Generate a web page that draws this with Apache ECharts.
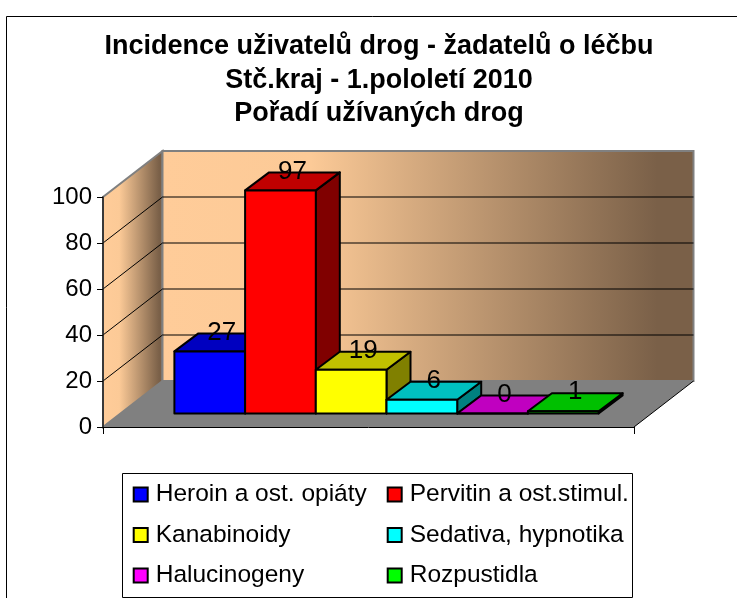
<!DOCTYPE html>
<html lang="en">
<head>
    <meta charset="UTF-8">
    <title>Incidence</title>
    <script src="https://cdn.jsdelivr.net/npm/echarts@6/dist/echarts.min.js"></script>
    <style>
        html, body { margin: 0; padding: 0; background: #fff; }
    </style>
</head>
<body>
    <div id="main" style="width: 737px;height:598px;"></div>
    <script type="text/javascript">
        var titleLines = ['Incidence uživatelů drog - žadatelů o léčbu', 'Stč.kraj - 1.pololetí 2010', 'Pořadí užívaných drog'];
        var drugs = ['Heroin a ost. opiáty', 'Pervitin a ost.stimul.', 'Kanabinoidy', 'Sedativa, hypnotika', 'Halucinogeny', 'Rozpustidla'];
        var counts = [27, 97, 19, 6, 0, 1];
        var yTicks = [20, 40, 60, 80];
        var frontColors = ['#0000ff', '#ff0000', '#ffff00', '#00ffff', '#ff00ff', '#00ff00'];
        var topColors = ['#0000c0', '#c00000', '#c0c000', '#00c0c0', '#c000c0', '#00c000'];
        var sideColors = ['#000080', '#800000', '#808000', '#008080', '#800080', '#008000'];

        var myChart = echarts.init(document.getElementById('main'));

        var FONT = '"Liberation Sans", Arial, sans-serif';
        // 3d look: how far the back wall and the bars sit from the front axis
        var WALL_DX = 59.5, WALL_DY = -46;
        var BAR_OFF_DX = 18, BAR_OFF_DY = -13.5;
        var BAR_DX = 24, BAR_DY = -18;
        var BAR_W = 70.7;

        function wallGradient() {
            return new echarts.graphic.LinearGradient(0, 0, 1, 0, [
                {offset: 0, color: '#ffcc99'},
                {offset: 0.28, color: '#fccA97'},
                {offset: 0.93, color: '#7a6048'},
                {offset: 1, color: '#7a6048'}
            ]);
        }

        function renderFrame(params, api) {
            var x0 = params.coordSys.x, x1 = x0 + params.coordSys.width;
            var bottom = api.coord([0, 0])[1], top = api.coord([0, 100])[1];
            var kids = [
                {type: 'polygon', shape: {points: [[x0, bottom], [x1, bottom], [x1 + WALL_DX, bottom + WALL_DY], [x0 + WALL_DX, bottom + WALL_DY]]},
                    style: {fill: '#808080'}},
                {type: 'polygon', shape: {points: [[x0, bottom], [x0, top], [x0 + WALL_DX, top + WALL_DY], [x0 + WALL_DX, bottom + WALL_DY]]},
                    style: {fill: wallGradient(), stroke: '#808080', lineWidth: 2}},
                {type: 'rect', shape: {x: x0 + WALL_DX, y: top + WALL_DY, width: x1 - x0, height: bottom - top},
                    style: {fill: wallGradient(), stroke: '#808080', lineWidth: 2}},
                {type: 'line', shape: {x1: x1, y1: bottom, x2: x1 + WALL_DX, y2: bottom + WALL_DY},
                    style: {stroke: '#000', lineWidth: 1}}
            ];
            yTicks.forEach(function (v) {
                var y = api.coord([0, v])[1];
                kids.push({type: 'line', shape: {x1: x0, y1: y, x2: x0 + WALL_DX, y2: y + WALL_DY}, style: {stroke: '#000', lineWidth: 1}});
                kids.push({type: 'line', shape: {x1: x0 + WALL_DX, y1: y + WALL_DY, x2: x1 + WALL_DX, y2: y + WALL_DY}, style: {stroke: '#000', lineWidth: 1}});
            });
            return {type: 'group', children: kids};
        }

        function renderBar(i) {
            return function (params, api) {
                var mid = api.coord([0, 0]);
                var v = api.value(1);
                var left = mid[0] + (i - 3) * BAR_W + BAR_OFF_DX;
                var right = left + BAR_W;
                var base = mid[1] + BAR_OFF_DY;
                var top = api.coord([0, v])[1] + BAR_OFF_DY;
                var border = {stroke: '#000', lineWidth: 2, lineJoin: 'round'};
                return {type: 'group', children: [
                    {type: 'polygon', shape: {points: [[right, base], [right, top], [right + BAR_DX, top + BAR_DY], [right + BAR_DX, base + BAR_DY]]},
                        style: Object.assign({fill: sideColors[i]}, border)},
                    {type: 'polygon', shape: {points: [[left, top], [right, top], [right + BAR_DX, top + BAR_DY], [left + BAR_DX, top + BAR_DY]]},
                        style: Object.assign({fill: topColors[i]}, border)},
                    {type: 'rect', shape: {x: left, y: top, width: BAR_W, height: base - top},
                        style: Object.assign({fill: frontColors[i]}, border)},
                    {type: 'text', style: {text: String(v), x: left + BAR_W / 2 + BAR_DX / 2, y: top + BAR_DY - 1,
                        align: 'center', verticalAlign: 'middle', font: '26px ' + FONT, fill: '#000'}}
                ]};
            };
        }

        var series = [{
            name: 'frame', type: 'custom', z: 1, silent: true,
            data: [[0, 0]], renderItem: renderFrame
        }];
        drugs.forEach(function (name, i) {
            series.push({
                name: name, type: 'custom', z: 2,
                itemStyle: {color: frontColors[i]},
                data: [[0, counts[i]]],
                renderItem: renderBar(i)
            });
        });

        function legendColumn(names, left) {
            return {
                orient: 'vertical', left: left, top: 482, itemGap: 15.5,
                itemWidth: 14, itemHeight: 14, icon: 'rect',
                data: names, selectedMode: false,
                itemStyle: {borderColor: '#000', borderWidth: 2},
                textStyle: {fontFamily: FONT, fontSize: 24.5, lineHeight: 24, color: '#000', padding: [0, 0, 0, 3]},
                padding: 0
            };
        }

        var option = {
            animation: false,
            backgroundColor: '#fff',
            title: {
                text: titleLines.join('\n'),
                left: 374, top: 25, textAlign: 'center',
                textStyle: {fontFamily: FONT, fontWeight: 'bold', fontSize: 27, lineHeight: 33.5, color: '#000'}
            },
            grid: {left: 103, top: 197, width: 531, height: 230},
            xAxis: {
                type: 'category', data: [''], z: 3,
                axisLine: {lineStyle: {color: '#000', width: 1}},
                axisTick: {show: true, length: 7, lineStyle: {color: '#000'}},
                axisLabel: {show: false}
            },
            yAxis: {
                type: 'value', min: 0, max: 100, interval: 20, z: 3,
                axisLine: {show: true, lineStyle: {color: '#222', width: 1.5}},
                axisTick: {show: true, length: 6, lineStyle: {color: '#000'}},
                axisLabel: {fontFamily: FONT, fontSize: 24, color: '#000', margin: 11},
                splitLine: {show: false}
            },
            legend: [
                legendColumn([drugs[0], drugs[2], drugs[4]], 132.7),
                legendColumn([drugs[1], drugs[3], drugs[5]], 386.7)
            ],
            series: series,
            graphic: [
                // outer chart border runs off the picture on the right and bottom
                {type: 'rect', silent: true, shape: {x: 6.5, y: 16.5, width: 760, height: 620}, style: {fill: 'none', stroke: '#000', lineWidth: 1}},
                {type: 'rect', silent: true, shape: {x: 122.5, y: 473.5, width: 510, height: 124}, style: {fill: 'none', stroke: '#000', lineWidth: 1}}
            ]
        };
        myChart.setOption(option);
    </script>
</body>
</html>
